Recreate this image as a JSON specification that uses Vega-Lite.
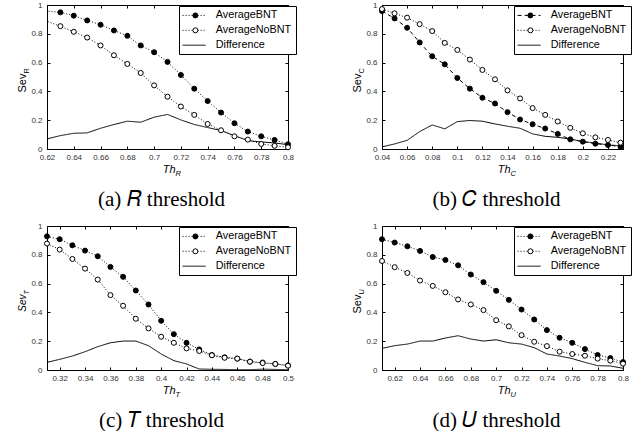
{
"$schema": "https://vega.github.io/schema/vega-lite/v6.json",
"padding": {"left": 15, "top": 0, "right": 0, "bottom": 0},
"bounds": "flush",
"columns": 2,
"spacing": {"row": 77, "column": 94},
"resolve": {"scale": {"strokeDash": "independent", "fill": "independent", "strokeWidth": "independent"}, "legend": {"strokeDash": "independent", "fill": "independent"}},
"config": {
  "font": "Liberation Sans",
  "view": {"stroke": "black", "strokeWidth": 1},
  "axis": {"grid": false, "domain": false, "ticks": true, "tickColor": "black", "tickSize": -3, "tickWidth": 1,
    "labelFont": "Liberation Sans", "labelFontSize": 8, "labelColor": "#333", "labelFlush": false, "labelOverlap": false, "labelPadding": 7,
    "titleFont": "Liberation Sans", "titleColor": "black", "titleFontWeight": "normal"},
  "legend": {"labelFont": "Liberation Sans", "labelFontSize": 10.8, "labelColor": "black", "padding": 4, "rowPadding": 2.9, "cornerRadius": 0, "labelLimit": 300},
  "title": {"orient": "bottom", "frame": "group", "font": "Liberation Serif", "fontSize": 21, "fontWeight": "normal", "color": "black", "offset": 12, "dx": -6}
},
"datasets": {
  "a": [
    {"s":"AverageBNT","x":0.61,"y":0.967},{"s":"AverageBNT","x":0.63,"y":0.949},{"s":"AverageBNT","x":0.64,"y":0.926},{"s":"AverageBNT","x":0.65,"y":0.893},{"s":"AverageBNT","x":0.66,"y":0.863},{"s":"AverageBNT","x":0.67,"y":0.823},{"s":"AverageBNT","x":0.68,"y":0.786},{"s":"AverageBNT","x":0.69,"y":0.719},{"s":"AverageBNT","x":0.70,"y":0.672},{"s":"AverageBNT","x":0.71,"y":0.605},{"s":"AverageBNT","x":0.72,"y":0.514},{"s":"AverageBNT","x":0.73,"y":0.419},{"s":"AverageBNT","x":0.74,"y":0.333},{"s":"AverageBNT","x":0.75,"y":0.253},{"s":"AverageBNT","x":0.76,"y":0.179},{"s":"AverageBNT","x":0.77,"y":0.121},{"s":"AverageBNT","x":0.78,"y":0.088},{"s":"AverageBNT","x":0.79,"y":0.063},{"s":"AverageBNT","x":0.80,"y":0.033},
    {"s":"AverageNoBNT","x":0.61,"y":0.92},{"s":"AverageNoBNT","x":0.63,"y":0.853},{"s":"AverageNoBNT","x":0.64,"y":0.814},{"s":"AverageNoBNT","x":0.65,"y":0.774},{"s":"AverageNoBNT","x":0.66,"y":0.719},{"s":"AverageNoBNT","x":0.67,"y":0.651},{"s":"AverageNoBNT","x":0.68,"y":0.591},{"s":"AverageNoBNT","x":0.69,"y":0.528},{"s":"AverageNoBNT","x":0.70,"y":0.442},{"s":"AverageNoBNT","x":0.71,"y":0.363},{"s":"AverageNoBNT","x":0.72,"y":0.295},{"s":"AverageNoBNT","x":0.73,"y":0.237},{"s":"AverageNoBNT","x":0.74,"y":0.174},{"s":"AverageNoBNT","x":0.75,"y":0.13},{"s":"AverageNoBNT","x":0.76,"y":0.088},{"s":"AverageNoBNT","x":0.77,"y":0.065},{"s":"AverageNoBNT","x":0.78,"y":0.035},{"s":"AverageNoBNT","x":0.79,"y":0.022},{"s":"AverageNoBNT","x":0.80,"y":0.012},
    {"s":"Difference","x":0.62,"y":0.07},{"s":"Difference","x":0.63,"y":0.093},{"s":"Difference","x":0.64,"y":0.109},{"s":"Difference","x":0.65,"y":0.112},{"s":"Difference","x":0.66,"y":0.144},{"s":"Difference","x":0.67,"y":0.17},{"s":"Difference","x":0.68,"y":0.193},{"s":"Difference","x":0.69,"y":0.186},{"s":"Difference","x":0.70,"y":0.221},{"s":"Difference","x":0.71,"y":0.24},{"s":"Difference","x":0.72,"y":0.202},{"s":"Difference","x":0.73,"y":0.17},{"s":"Difference","x":0.74,"y":0.149},{"s":"Difference","x":0.75,"y":0.128},{"s":"Difference","x":0.76,"y":0.093},{"s":"Difference","x":0.77,"y":0.058},{"s":"Difference","x":0.78,"y":0.049},{"s":"Difference","x":0.79,"y":0.042},{"s":"Difference","x":0.80,"y":0.03}
  ],
  "b": [
    {"s":"AverageBNT","x":0.04,"y":0.958},{"s":"AverageBNT","x":0.05,"y":0.907},{"s":"AverageBNT","x":0.06,"y":0.842},{"s":"AverageBNT","x":0.07,"y":0.74},{"s":"AverageBNT","x":0.08,"y":0.644},{"s":"AverageBNT","x":0.09,"y":0.588},{"s":"AverageBNT","x":0.10,"y":0.493},{"s":"AverageBNT","x":0.11,"y":0.419},{"s":"AverageBNT","x":0.12,"y":0.356},{"s":"AverageBNT","x":0.13,"y":0.316},{"s":"AverageBNT","x":0.14,"y":0.256},{"s":"AverageBNT","x":0.15,"y":0.205},{"s":"AverageBNT","x":0.16,"y":0.172},{"s":"AverageBNT","x":0.17,"y":0.142},{"s":"AverageBNT","x":0.18,"y":0.105},{"s":"AverageBNT","x":0.19,"y":0.067},{"s":"AverageBNT","x":0.20,"y":0.051},{"s":"AverageBNT","x":0.21,"y":0.037},{"s":"AverageBNT","x":0.22,"y":0.028},{"s":"AverageBNT","x":0.23,"y":0.016},
    {"s":"AverageNoBNT","x":0.04,"y":0.972},{"s":"AverageNoBNT","x":0.05,"y":0.942},{"s":"AverageNoBNT","x":0.06,"y":0.912},{"s":"AverageNoBNT","x":0.07,"y":0.867},{"s":"AverageNoBNT","x":0.08,"y":0.819},{"s":"AverageNoBNT","x":0.09,"y":0.737},{"s":"AverageNoBNT","x":0.10,"y":0.688},{"s":"AverageNoBNT","x":0.11,"y":0.621},{"s":"AverageNoBNT","x":0.12,"y":0.549},{"s":"AverageNoBNT","x":0.13,"y":0.484},{"s":"AverageNoBNT","x":0.14,"y":0.407},{"s":"AverageNoBNT","x":0.15,"y":0.351},{"s":"AverageNoBNT","x":0.16,"y":0.284},{"s":"AverageNoBNT","x":0.17,"y":0.237},{"s":"AverageNoBNT","x":0.18,"y":0.191},{"s":"AverageNoBNT","x":0.19,"y":0.147},{"s":"AverageNoBNT","x":0.20,"y":0.109},{"s":"AverageNoBNT","x":0.21,"y":0.081},{"s":"AverageNoBNT","x":0.22,"y":0.063},{"s":"AverageNoBNT","x":0.23,"y":0.044},
    {"s":"Difference","x":0.04,"y":0.015},{"s":"Difference","x":0.05,"y":0.035},{"s":"Difference","x":0.06,"y":0.06},{"s":"Difference","x":0.07,"y":0.121},{"s":"Difference","x":0.08,"y":0.167},{"s":"Difference","x":0.09,"y":0.14},{"s":"Difference","x":0.10,"y":0.19},{"s":"Difference","x":0.11,"y":0.198},{"s":"Difference","x":0.12,"y":0.193},{"s":"Difference","x":0.13,"y":0.174},{"s":"Difference","x":0.14,"y":0.158},{"s":"Difference","x":0.15,"y":0.144},{"s":"Difference","x":0.16,"y":0.105},{"s":"Difference","x":0.17,"y":0.088},{"s":"Difference","x":0.18,"y":0.081},{"s":"Difference","x":0.19,"y":0.07},{"s":"Difference","x":0.20,"y":0.051},{"s":"Difference","x":0.21,"y":0.042},{"s":"Difference","x":0.22,"y":0.028},{"s":"Difference","x":0.23,"y":0.023}
  ],
  "c": [
    {"s":"AverageBNT","x":0.31,"y":0.928},{"s":"AverageBNT","x":0.32,"y":0.908},{"s":"AverageBNT","x":0.33,"y":0.866},{"s":"AverageBNT","x":0.34,"y":0.829},{"s":"AverageBNT","x":0.35,"y":0.79},{"s":"AverageBNT","x":0.36,"y":0.716},{"s":"AverageBNT","x":0.37,"y":0.647},{"s":"AverageBNT","x":0.38,"y":0.552},{"s":"AverageBNT","x":0.39,"y":0.455},{"s":"AverageBNT","x":0.40,"y":0.342},{"s":"AverageBNT","x":0.41,"y":0.249},{"s":"AverageBNT","x":0.42,"y":0.189},{"s":"AverageBNT","x":0.43,"y":0.143},{"s":"AverageBNT","x":0.44,"y":0.104},{"s":"AverageBNT","x":0.45,"y":0.088},{"s":"AverageBNT","x":0.46,"y":0.079},{"s":"AverageBNT","x":0.47,"y":0.058},{"s":"AverageBNT","x":0.48,"y":0.052},{"s":"AverageBNT","x":0.49,"y":0.042},{"s":"AverageBNT","x":0.50,"y":0.032},
    {"s":"AverageNoBNT","x":0.31,"y":0.878},{"s":"AverageNoBNT","x":0.32,"y":0.836},{"s":"AverageNoBNT","x":0.33,"y":0.771},{"s":"AverageNoBNT","x":0.34,"y":0.704},{"s":"AverageNoBNT","x":0.35,"y":0.628},{"s":"AverageNoBNT","x":0.36,"y":0.52},{"s":"AverageNoBNT","x":0.37,"y":0.446},{"s":"AverageNoBNT","x":0.38,"y":0.356},{"s":"AverageNoBNT","x":0.39,"y":0.289},{"s":"AverageNoBNT","x":0.40,"y":0.231},{"s":"AverageNoBNT","x":0.41,"y":0.189},{"s":"AverageNoBNT","x":0.42,"y":0.15},{"s":"AverageNoBNT","x":0.43,"y":0.132},{"s":"AverageNoBNT","x":0.44,"y":0.102},{"s":"AverageNoBNT","x":0.45,"y":0.085},{"s":"AverageNoBNT","x":0.46,"y":0.079},{"s":"AverageNoBNT","x":0.47,"y":0.058},{"s":"AverageNoBNT","x":0.48,"y":0.048},{"s":"AverageNoBNT","x":0.49,"y":0.042},{"s":"AverageNoBNT","x":0.50,"y":0.03},
    {"s":"Difference","x":0.31,"y":0.053},{"s":"Difference","x":0.32,"y":0.074},{"s":"Difference","x":0.33,"y":0.097},{"s":"Difference","x":0.34,"y":0.127},{"s":"Difference","x":0.35,"y":0.162},{"s":"Difference","x":0.36,"y":0.189},{"s":"Difference","x":0.37,"y":0.201},{"s":"Difference","x":0.38,"y":0.201},{"s":"Difference","x":0.39,"y":0.169},{"s":"Difference","x":0.40,"y":0.111},{"s":"Difference","x":0.41,"y":0.065},{"s":"Difference","x":0.42,"y":0.042},{"s":"Difference","x":0.43,"y":0.007},{"s":"Difference","x":0.44,"y":0.005},{"s":"Difference","x":0.45,"y":0.004},{"s":"Difference","x":0.46,"y":0.002},{"s":"Difference","x":0.47,"y":0.002},{"s":"Difference","x":0.48,"y":0.006},{"s":"Difference","x":0.49,"y":0.004},{"s":"Difference","x":0.50,"y":0.002}
  ],
  "d": [
    {"s":"AverageBNT","x":0.61,"y":0.908},{"s":"AverageBNT","x":0.62,"y":0.885},{"s":"AverageBNT","x":0.63,"y":0.859},{"s":"AverageBNT","x":0.64,"y":0.827},{"s":"AverageBNT","x":0.65,"y":0.785},{"s":"AverageBNT","x":0.66,"y":0.764},{"s":"AverageBNT","x":0.67,"y":0.727},{"s":"AverageBNT","x":0.68,"y":0.663},{"s":"AverageBNT","x":0.69,"y":0.61},{"s":"AverageBNT","x":0.70,"y":0.55},{"s":"AverageBNT","x":0.71,"y":0.487},{"s":"AverageBNT","x":0.72,"y":0.42},{"s":"AverageBNT","x":0.73,"y":0.351},{"s":"AverageBNT","x":0.74,"y":0.277},{"s":"AverageBNT","x":0.75,"y":0.224},{"s":"AverageBNT","x":0.76,"y":0.189},{"s":"AverageBNT","x":0.77,"y":0.145},{"s":"AverageBNT","x":0.78,"y":0.104},{"s":"AverageBNT","x":0.79,"y":0.083},{"s":"AverageBNT","x":0.80,"y":0.055},
    {"s":"AverageNoBNT","x":0.61,"y":0.757},{"s":"AverageNoBNT","x":0.62,"y":0.714},{"s":"AverageNoBNT","x":0.63,"y":0.674},{"s":"AverageNoBNT","x":0.64,"y":0.621},{"s":"AverageNoBNT","x":0.65,"y":0.584},{"s":"AverageNoBNT","x":0.66,"y":0.54},{"s":"AverageNoBNT","x":0.67,"y":0.49},{"s":"AverageNoBNT","x":0.68,"y":0.455},{"s":"AverageNoBNT","x":0.69,"y":0.416},{"s":"AverageNoBNT","x":0.70,"y":0.346},{"s":"AverageNoBNT","x":0.71,"y":0.303},{"s":"AverageNoBNT","x":0.72,"y":0.242},{"s":"AverageNoBNT","x":0.73,"y":0.196},{"s":"AverageNoBNT","x":0.74,"y":0.166},{"s":"AverageNoBNT","x":0.75,"y":0.127},{"s":"AverageNoBNT","x":0.76,"y":0.111},{"s":"AverageNoBNT","x":0.77,"y":0.099},{"s":"AverageNoBNT","x":0.78,"y":0.079},{"s":"AverageNoBNT","x":0.79,"y":0.065},{"s":"AverageNoBNT","x":0.80,"y":0.044},
    {"s":"Difference","x":0.61,"y":0.15},{"s":"Difference","x":0.62,"y":0.169},{"s":"Difference","x":0.63,"y":0.18},{"s":"Difference","x":0.64,"y":0.201},{"s":"Difference","x":0.65,"y":0.201},{"s":"Difference","x":0.66,"y":0.222},{"s":"Difference","x":0.67,"y":0.238},{"s":"Difference","x":0.68,"y":0.215},{"s":"Difference","x":0.69,"y":0.201},{"s":"Difference","x":0.70,"y":0.21},{"s":"Difference","x":0.71,"y":0.189},{"s":"Difference","x":0.72,"y":0.18},{"s":"Difference","x":0.73,"y":0.155},{"s":"Difference","x":0.74,"y":0.111},{"s":"Difference","x":0.75,"y":0.097},{"s":"Difference","x":0.76,"y":0.079},{"s":"Difference","x":0.77,"y":0.053},{"s":"Difference","x":0.78,"y":0.03},{"s":"Difference","x":0.79,"y":0.028},{"s":"Difference","x":0.80,"y":0.012}
  ]
},
"concat": [
  {
    "width": 241, "height": 144,
    "data": {"name": "a"},
    "title": {"text": "(a) 𝑅 threshold"},
    "resolve": {"axis": {"x": "independent", "y": "independent"}},
    "layer": [
      {"mark": {"type": "line", "clip": true, "color": "black"},
       "encoding": {
         "x": {"field": "x", "type": "quantitative", "scale": {"domain": [0.62, 0.8], "nice": false, "zero": false},
               "axis": {"orient": "bottom", "values": [0.62,0.64,0.66,0.68,0.7,0.72,0.74,0.76,0.78,0.8], "format": ".2~f", "title": "Th", "titleFontStyle": "italic", "titleFontSize": 11, "titleX": 128, "titleY": 23, "titleAlign": "right", "titleBaseline": "alphabetic"}},
         "y": {"field": "y", "type": "quantitative", "scale": {"domain": [0, 1], "nice": false},
               "axis": {"orient": "left", "values": [0,0.2,0.4,0.6,0.8,1], "format": ".1~f", "labelPadding": 8, "title": "Sev", "titleFontSize": 11, "titleAngle": -90, "titleX": -22, "titleY": 68, "titleAlign": "right", "titleBaseline": "alphabetic"}},
         "strokeDash": {"field": "s", "type": "nominal", "scale": {"domain": ["AverageBNT","AverageNoBNT","Difference"], "range": [[1,2],[1,2],[1,0]]},
               "legend": {"orient": "none", "legendX": 132, "legendY": 1, "title": null, "symbolType": "M-3,0H3", "symbolSize": 59, "symbolOffset": 5.7, "symbolStrokeWidth": 1, "symbolStrokeColor": "black", "labelOffset": 16.3, "strokeColor": "black", "fillColor": "white", "zindex": 1}},
         "strokeWidth": {"field": "s", "type": "nominal", "scale": {"domain": ["AverageBNT","AverageNoBNT","Difference"], "range": [1,1,1.4]}, "legend": null}
       }},
      {"transform": [{"filter": "datum.s != 'Difference' && datum.x > 0.615"}],
       "mark": {"type": "point", "shape": "circle", "filled": true, "stroke": "black", "strokeWidth": 1, "size": 25, "opacity": 1},
       "encoding": {
         "x": {"field": "x", "type": "quantitative", "scale": {"domain": [0.62, 0.8], "nice": false, "zero": false}, "axis": null},
         "y": {"field": "y", "type": "quantitative", "scale": {"domain": [0, 1], "nice": false}, "axis": null},
         "fill": {"field": "s", "type": "nominal", "scale": {"domain": ["AverageBNT","AverageNoBNT"], "range": ["black","white"]},
               "legend": {"orient": "none", "legendX": 132, "legendY": 1, "title": null, "symbolType": "circle", "symbolSize": 25, "symbolOffset": 7, "symbolStrokeColor": "black", "symbolStrokeWidth": 1, "labelExpr": "''", "labelOffset": 4, "zindex": 2}}
       }},
      {"mark": {"type": "point", "opacity": 0},
       "encoding": {
         "x": {"field": "x", "type": "quantitative", "scale": {"domain": [0.62, 0.8], "nice": false, "zero": false},
               "axis": {"orient": "top", "values": [0.62,0.64,0.66,0.68,0.7,0.72,0.74,0.76,0.78,0.8], "labels": false, "title": "R", "titleFontStyle": "italic", "titleFontSize": 7.5, "titleX": 128, "titleY": 170, "titleAlign": "left", "titleBaseline": "alphabetic"}},
         "y": {"field": "y", "type": "quantitative", "scale": {"domain": [0, 1], "nice": false},
               "axis": {"orient": "right", "values": [0,0.2,0.4,0.6,0.8,1], "labels": false, "title": "R", "titleFontSize": 7.5, "titleAngle": -90, "titleX": -260, "titleY": 68, "titleAlign": "left", "titleBaseline": "alphabetic"}}
       }}
    ]
  },
  {
    "width": 241, "height": 144,
    "data": {"name": "b"},
    "title": {"text": "(b) 𝐶 threshold"},
    "resolve": {"axis": {"x": "independent", "y": "independent"}},
    "layer": [
      {"mark": {"type": "line", "clip": true, "color": "black"},
       "encoding": {
         "x": {"field": "x", "type": "quantitative", "scale": {"domain": [0.04, 0.232], "nice": false, "zero": false},
               "axis": {"orient": "bottom", "values": [0.04,0.06,0.08,0.1,0.12,0.14,0.16,0.18,0.2,0.22], "format": ".2~f", "title": "Th", "titleFontStyle": "italic", "titleFontSize": 11, "titleX": 128, "titleY": 23, "titleAlign": "right", "titleBaseline": "alphabetic"}},
         "y": {"field": "y", "type": "quantitative", "scale": {"domain": [0, 1], "nice": false},
               "axis": {"orient": "left", "values": [0,0.2,0.4,0.6,0.8,1], "format": ".1~f", "labelPadding": 8, "title": "Sev", "titleFontSize": 11, "titleAngle": -90, "titleX": -22, "titleY": 68, "titleAlign": "right", "titleBaseline": "alphabetic"}},
         "strokeDash": {"field": "s", "type": "nominal", "scale": {"domain": ["AverageBNT","AverageNoBNT","Difference"], "range": [[4,3],[1,2],[1,0]]},
               "legend": {"orient": "none", "legendX": 132, "legendY": 1, "title": null, "symbolType": "M-3,0H3", "symbolSize": 59, "symbolOffset": 5.7, "symbolStrokeWidth": 1, "symbolStrokeColor": "black", "labelOffset": 16.3, "strokeColor": "black", "fillColor": "white", "zindex": 1}},
         "strokeWidth": {"field": "s", "type": "nominal", "scale": {"domain": ["AverageBNT","AverageNoBNT","Difference"], "range": [1,1,1.4]}, "legend": null}
       }},
      {"transform": [{"filter": "datum.s != 'Difference'"}],
       "mark": {"type": "point", "shape": "circle", "filled": true, "stroke": "black", "strokeWidth": 1, "size": 25, "opacity": 1},
       "encoding": {
         "x": {"field": "x", "type": "quantitative", "scale": {"domain": [0.04, 0.232], "nice": false, "zero": false}, "axis": null},
         "y": {"field": "y", "type": "quantitative", "scale": {"domain": [0, 1], "nice": false}, "axis": null},
         "fill": {"field": "s", "type": "nominal", "scale": {"domain": ["AverageBNT","AverageNoBNT"], "range": ["black","white"]},
               "legend": {"orient": "none", "legendX": 132, "legendY": 1, "title": null, "symbolType": "circle", "symbolSize": 25, "symbolOffset": 7, "symbolStrokeColor": "black", "symbolStrokeWidth": 1, "labelExpr": "''", "labelOffset": 4, "zindex": 2}}
       }},
      {"mark": {"type": "point", "opacity": 0},
       "encoding": {
         "x": {"field": "x", "type": "quantitative", "scale": {"domain": [0.04, 0.232], "nice": false, "zero": false},
               "axis": {"orient": "top", "values": [0.04,0.06,0.08,0.1,0.12,0.14,0.16,0.18,0.2,0.22], "labels": false, "title": "C", "titleFontStyle": "italic", "titleFontSize": 7.5, "titleX": 128, "titleY": 170, "titleAlign": "left", "titleBaseline": "alphabetic"}},
         "y": {"field": "y", "type": "quantitative", "scale": {"domain": [0, 1], "nice": false},
               "axis": {"orient": "right", "values": [0,0.2,0.4,0.6,0.8,1], "labels": false, "title": "C", "titleFontSize": 7.5, "titleAngle": -90, "titleX": -260, "titleY": 68, "titleAlign": "left", "titleBaseline": "alphabetic"}}
       }}
    ]
  },
  {
    "width": 241, "height": 144,
    "data": {"name": "c"},
    "title": {"text": "(c) 𝑇 threshold"},
    "resolve": {"axis": {"x": "independent", "y": "independent"}},
    "layer": [
      {"mark": {"type": "line", "clip": true, "color": "black"},
       "encoding": {
         "x": {"field": "x", "type": "quantitative", "scale": {"domain": [0.31, 0.5], "nice": false, "zero": false},
               "axis": {"orient": "bottom", "values": [0.32,0.34,0.36,0.38,0.4,0.42,0.44,0.46,0.48,0.5], "format": ".2~f", "title": "Th", "titleFontStyle": "italic", "titleFontSize": 11, "titleX": 128, "titleY": 23, "titleAlign": "right", "titleBaseline": "alphabetic"}},
         "y": {"field": "y", "type": "quantitative", "scale": {"domain": [0, 1], "nice": false},
               "axis": {"orient": "left", "values": [0,0.2,0.4,0.6,0.8,1], "format": ".1~f", "labelPadding": 8, "title": "Sev", "titleFontStyle": "italic", "titleFontSize": 10, "titleAngle": -90, "titleX": -22, "titleY": 68, "titleAlign": "right", "titleBaseline": "alphabetic"}},
         "strokeDash": {"field": "s", "type": "nominal", "scale": {"domain": ["AverageBNT","AverageNoBNT","Difference"], "range": [[1,2],[1,2],[1,0]]},
               "legend": {"orient": "none", "legendX": 132, "legendY": 1, "title": null, "symbolType": "M-3,0H3", "symbolSize": 59, "symbolOffset": 5.7, "symbolStrokeWidth": 1, "symbolStrokeColor": "black", "labelOffset": 16.3, "strokeColor": "black", "fillColor": "white", "zindex": 1}},
         "strokeWidth": {"field": "s", "type": "nominal", "scale": {"domain": ["AverageBNT","AverageNoBNT","Difference"], "range": [1,1,1.4]}, "legend": null}
       }},
      {"transform": [{"filter": "datum.s != 'Difference'"}],
       "mark": {"type": "point", "shape": "circle", "filled": true, "stroke": "black", "strokeWidth": 1, "size": 25, "opacity": 1},
       "encoding": {
         "x": {"field": "x", "type": "quantitative", "scale": {"domain": [0.31, 0.5], "nice": false, "zero": false}, "axis": null},
         "y": {"field": "y", "type": "quantitative", "scale": {"domain": [0, 1], "nice": false}, "axis": null},
         "fill": {"field": "s", "type": "nominal", "scale": {"domain": ["AverageBNT","AverageNoBNT"], "range": ["black","white"]},
               "legend": {"orient": "none", "legendX": 132, "legendY": 1, "title": null, "symbolType": "circle", "symbolSize": 25, "symbolOffset": 7, "symbolStrokeColor": "black", "symbolStrokeWidth": 1, "labelExpr": "''", "labelOffset": 4, "zindex": 2}}
       }},
      {"mark": {"type": "point", "opacity": 0},
       "encoding": {
         "x": {"field": "x", "type": "quantitative", "scale": {"domain": [0.31, 0.5], "nice": false, "zero": false},
               "axis": {"orient": "top", "values": [0.32,0.34,0.36,0.38,0.4,0.42,0.44,0.46,0.48,0.5], "labels": false, "title": "T", "titleFontStyle": "italic", "titleFontSize": 7.5, "titleX": 128, "titleY": 170, "titleAlign": "left", "titleBaseline": "alphabetic"}},
         "y": {"field": "y", "type": "quantitative", "scale": {"domain": [0, 1], "nice": false},
               "axis": {"orient": "right", "values": [0,0.2,0.4,0.6,0.8,1], "labels": false, "title": "T", "titleFontStyle": "italic", "titleFontSize": 7, "titleAngle": -90, "titleX": -260, "titleY": 68, "titleAlign": "left", "titleBaseline": "alphabetic"}}
       }}
    ]
  },
  {
    "width": 241, "height": 144,
    "data": {"name": "d"},
    "title": {"text": "(d) 𝑈 threshold"},
    "resolve": {"axis": {"x": "independent", "y": "independent"}},
    "layer": [
      {"mark": {"type": "line", "clip": true, "color": "black"},
       "encoding": {
         "x": {"field": "x", "type": "quantitative", "scale": {"domain": [0.61, 0.8], "nice": false, "zero": false},
               "axis": {"orient": "bottom", "values": [0.62,0.64,0.66,0.68,0.7,0.72,0.74,0.76,0.78,0.8], "format": ".2~f", "title": "Th", "titleFontStyle": "italic", "titleFontSize": 11, "titleX": 128, "titleY": 23, "titleAlign": "right", "titleBaseline": "alphabetic"}},
         "y": {"field": "y", "type": "quantitative", "scale": {"domain": [0, 1], "nice": false},
               "axis": {"orient": "left", "values": [0,0.2,0.4,0.6,0.8,1], "format": ".1~f", "labelPadding": 8, "title": "Sev", "titleFontSize": 11, "titleAngle": -90, "titleX": -22, "titleY": 68, "titleAlign": "right", "titleBaseline": "alphabetic"}},
         "strokeDash": {"field": "s", "type": "nominal", "scale": {"domain": ["AverageBNT","AverageNoBNT","Difference"], "range": [[1,2],[1,2],[1,0]]},
               "legend": {"orient": "none", "legendX": 132, "legendY": 1, "title": null, "symbolType": "M-3,0H3", "symbolSize": 59, "symbolOffset": 5.7, "symbolStrokeWidth": 1, "symbolStrokeColor": "black", "labelOffset": 16.3, "strokeColor": "black", "fillColor": "white", "zindex": 1}},
         "strokeWidth": {"field": "s", "type": "nominal", "scale": {"domain": ["AverageBNT","AverageNoBNT","Difference"], "range": [1,1,1.4]}, "legend": null}
       }},
      {"transform": [{"filter": "datum.s != 'Difference'"}],
       "mark": {"type": "point", "shape": "circle", "filled": true, "stroke": "black", "strokeWidth": 1, "size": 25, "opacity": 1},
       "encoding": {
         "x": {"field": "x", "type": "quantitative", "scale": {"domain": [0.61, 0.8], "nice": false, "zero": false}, "axis": null},
         "y": {"field": "y", "type": "quantitative", "scale": {"domain": [0, 1], "nice": false}, "axis": null},
         "fill": {"field": "s", "type": "nominal", "scale": {"domain": ["AverageBNT","AverageNoBNT"], "range": ["black","white"]},
               "legend": {"orient": "none", "legendX": 132, "legendY": 1, "title": null, "symbolType": "circle", "symbolSize": 25, "symbolOffset": 7, "symbolStrokeColor": "black", "symbolStrokeWidth": 1, "labelExpr": "''", "labelOffset": 4, "zindex": 2}}
       }},
      {"mark": {"type": "point", "opacity": 0},
       "encoding": {
         "x": {"field": "x", "type": "quantitative", "scale": {"domain": [0.61, 0.8], "nice": false, "zero": false},
               "axis": {"orient": "top", "values": [0.62,0.64,0.66,0.68,0.7,0.72,0.74,0.76,0.78,0.8], "labels": false, "title": "U", "titleFontStyle": "italic", "titleFontSize": 7.5, "titleX": 128, "titleY": 170, "titleAlign": "left", "titleBaseline": "alphabetic"}},
         "y": {"field": "y", "type": "quantitative", "scale": {"domain": [0, 1], "nice": false},
               "axis": {"orient": "right", "values": [0,0.2,0.4,0.6,0.8,1], "labels": false, "title": "U", "titleFontSize": 7.5, "titleAngle": -90, "titleX": -260, "titleY": 68, "titleAlign": "left", "titleBaseline": "alphabetic"}}
       }}
    ]
  }
]
}
